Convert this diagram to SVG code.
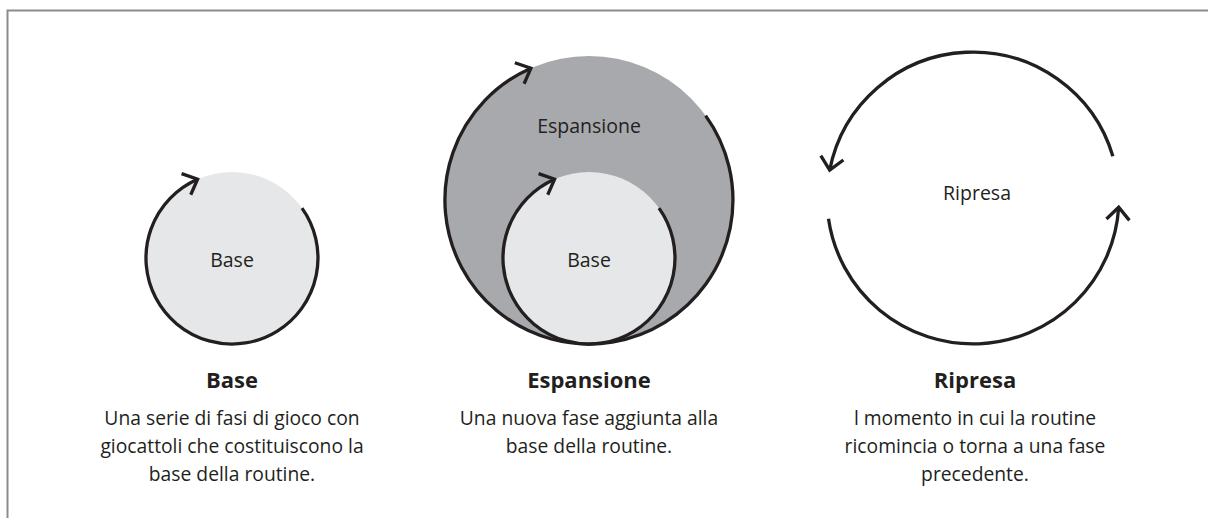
<svg xmlns="http://www.w3.org/2000/svg" width="1208" height="518" viewBox="0 0 1208 518">
<style>
.frame{fill:none;stroke:#8c8c8c;stroke-width:2}
.loop{fill:none;stroke:#231f20;stroke-width:3.3}
.lbl{font-family:"Open Sans","Noto Sans",sans-serif;font-size:19.5px;fill:#231f20;text-anchor:middle}
.ttl{font-family:"Open Sans","Noto Sans",sans-serif;font-size:22px;font-weight:bold;fill:#231f20;text-anchor:middle}
.body{font-family:"Open Sans","Noto Sans",sans-serif;font-size:19.3px;fill:#231f20;text-anchor:middle}
.light{fill:#e6e7e8}
.dark{fill:#a7a9ac}
</style>
<defs>
<marker id="chev" markerUnits="userSpaceOnUse" viewBox="-16 -15 20 30" markerWidth="20" markerHeight="30" refX="0" refY="0" orient="auto" overflow="visible">
<path d="M-12.5,-11.5 L0,0 L-12.5,11.5" fill="none" stroke="#231f20" stroke-width="3.3"/>
</marker>
</defs>
<rect width="1208" height="518" fill="#ffffff"/>
<path class="frame" d="M7.5,518 V10.5 H1208"/>

<g id="node-base">
<circle class="light" cx="232" cy="258" r="86"/>
<text class="lbl" x="232" y="267">Base</text>
</g>

<g id="node-espansione">
<circle class="dark" cx="589" cy="200" r="144"/>
<text class="lbl" x="589" y="133">Espansione</text>
<circle class="light" cx="589" cy="258" r="86"/>
<text class="lbl" x="589" y="267">Base</text>
</g>

<g id="node-ripresa">
<text class="lbl" x="977" y="200">Ripresa</text>
</g>

<g id="connectors">
<path class="loop" marker-end="url(#chev)" d="M302,208.1 A86,86 0 1 1 197.6,179.2"/>
<path class="loop" marker-end="url(#chev)" d="M705.6,115.6 A144,144 0 1 1 530.9,68.2"/>
<path class="loop" marker-end="url(#chev)" d="M659,208.1 A86,86 0 1 1 554.6,179.2"/>
<path class="loop" marker-end="url(#chev)" d="M1112.9,156.3 A146,146 0 0 0 829.7,170.1"/>
<path class="loop" marker-end="url(#chev)" d="M828.5,218.8 A146,146 0 0 0 1118.7,207.2"/>
</g>

<g id="caption-base">
<text class="ttl" x="232" y="388">Base</text>
<text class="body" x="232" y="425">Una serie di fasi di gioco con</text>
<text class="body" x="232" y="453">giocattoli che costituiscono la</text>
<text class="body" x="232" y="481">base della routine.</text>
</g>
<g id="caption-espansione">
<text class="ttl" x="589" y="388">Espansione</text>
<text class="body" x="589" y="425">Una nuova fase aggiunta alla</text>
<text class="body" x="589" y="453">base della routine.</text>
</g>
<g id="caption-ripresa">
<text class="ttl" x="975" y="388">Ripresa</text>
<text class="body" x="975" y="425">l momento in cui la routine</text>
<text class="body" x="975" y="453">ricomincia o torna a una fase</text>
<text class="body" x="975" y="481">precedente.</text>
</g>
</svg>
